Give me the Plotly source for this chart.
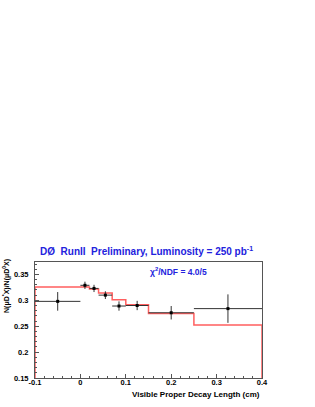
import plotly.graph_objects as go

# ---- data ----
x_centers = [-0.05, 0.01, 0.03, 0.055, 0.085, 0.125, 0.2, 0.325]
x_low = [-0.1, 0.0, 0.02, 0.04, 0.07, 0.1, 0.15, 0.25]
x_high = [0.0, 0.02, 0.04, 0.07, 0.1, 0.15, 0.25, 0.4]
ratio = [0.298, 0.329, 0.323, 0.310, 0.289, 0.290, 0.276, 0.284]
ratio_err = [0.018, 0.007, 0.007, 0.0075, 0.009, 0.009, 0.013, 0.0275]

fit_edges = [-0.1, 0.02, 0.04, 0.07, 0.1, 0.15, 0.25, 0.4]
fit_values = [0.3255, 0.322, 0.314, 0.301, 0.2915, 0.2745, 0.2523]

x_tick_vals = [-0.1, 0.0, 0.1, 0.2, 0.3, 0.4]
x_tick_text = ["-0.1", "0", "0.1", "0.2", "0.3", "0.4"]
y_tick_vals = [0.15, 0.2, 0.25, 0.3, 0.35]
y_tick_text = ["0.15", "0.2", "0.25", "0.3", "0.35"]

x_range = [-0.1, 0.4]
y_range = [0.15, 0.374]

# ---- build ----
ex_minus = [c - lo for c, lo in zip(x_centers, x_low)]
ex_plus = [hi - c for c, hi in zip(x_centers, x_high)]

fit_x = [fit_edges[0]] + fit_edges[:-1] + [fit_edges[-1], fit_edges[-1]]
fit_y = [y_range[0]] + fit_values + [fit_values[-1], y_range[0]]

fig = go.Figure()
fig.add_trace(go.Scatter(
    x=fit_x, y=fit_y, mode="lines", line=dict(color="rgb(255,95,95)", width=1.5, shape="hv"),
    hoverinfo="skip", showlegend=False, cliponaxis=False))
fig.add_trace(go.Scatter(
    x=x_centers, y=ratio, mode="markers",
    marker=dict(symbol="square", size=3, color="black"),
    error_y=dict(type="data", array=ratio_err, color="#333333", thickness=1, width=0),
    error_x=dict(type="data", symmetric=False, array=ex_plus, arrayminus=ex_minus,
                 color="#333333", thickness=1, width=0),
    showlegend=False))

blue = "#2222dd"
axis_font = dict(family="Liberation Sans, Arial, sans-serif", size=7.5, color="black", weight="bold")

W, H = 315, 407
L, T = 35, 262
PW, PH = 227, 116

fig.update_layout(
    width=W, height=H,
    margin=dict(l=L, r=W - L - PW, t=T, b=H - T - PH),
    paper_bgcolor="white", plot_bgcolor="white",
    font=dict(family="Liberation Sans, Arial, sans-serif"),
    xaxis=dict(range=x_range, tickmode="array", tickvals=x_tick_vals, ticktext=x_tick_text,
               showgrid=False, zeroline=False, automargin=False,
               showline=True, linecolor="#555555", linewidth=1, mirror=True,
               ticks="inside", ticklen=4, tickcolor="#555555", ticklabelstandoff=-3,
               minor=dict(ticks="inside", tick0=0, dtick=0.02, ticklen=2, tickcolor="#555555"),
               tickfont=axis_font),
    yaxis=dict(range=y_range, tickmode="array", tickvals=y_tick_vals, ticktext=y_tick_text,
               showgrid=False, zeroline=False, automargin=False,
               showline=True, linecolor="#555555", linewidth=1, mirror=True,
               ticks="inside", ticklen=4, tickcolor="#555555", ticklabelstandoff=4,
               minor=dict(ticks="inside", tick0=0, dtick=0.01, ticklen=2, tickcolor="#555555"),
               tickfont=axis_font),
    annotations=[
        dict(text="DØ  RunII  Preliminary, Luminosity = 250 pb<sup>-1</sup>",
             xref="paper", yref="paper", x=3/PW, y=1 + 11/PH, xanchor="left", yanchor="middle",
             showarrow=False, font=dict(size=10, color=blue, weight="bold")),
        dict(text="χ<sup>2</sup>/NDF = 4.0/5",
             xref="paper", yref="paper", x=(178-35)/PW, y=1 - 9/PH, xanchor="center", yanchor="middle",
             showarrow=False, font=dict(size=8.5, color=blue, weight="bold")),
        dict(text="Visible Proper Decay Length (cm)",
             xref="paper", yref="paper", x=1, y=-16/PH, xanchor="right", yanchor="middle",
             showarrow=False, font=dict(size=8, color="black", weight="bold")),
        dict(text="N(μD<sup>*</sup>X)/N(μD<sup>0</sup>X)", textangle=-90,
             xref="paper", yref="paper", x=-29/PW, y=1 + 5/PH, xanchor="center", yanchor="top",
             showarrow=False, font=dict(size=7, color="black", weight="bold")),
    ],
)

fig.write_html("out.html", config={"displayModeBar": False},
               post_script="document.body.style.margin='0';")
